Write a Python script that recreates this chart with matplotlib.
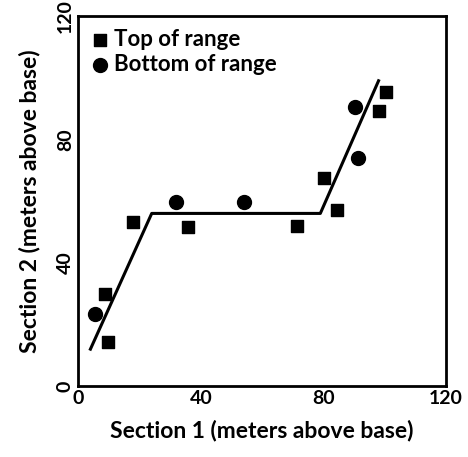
import matplotlib.pyplot as plt

plt.rcParams['font.family'] = ['Lato', 'DejaVu Sans']
plt.rcParams['font.weight'] = 'bold'

# Top of range (squares)
top_x = [8.8, 9.8, 17.9, 35.8, 71.4, 80.3, 84.3, 100.4, 98.2]
top_y = [29.8, 14.2, 53.3, 51.6, 52.0, 67.5, 57.2, 95.4, 89.3]
# Bottom of range (circles)
bot_x = [5.5, 31.8, 54.1, 90.4, 91.2]
bot_y = [23.4, 59.6, 59.6, 90.5, 73.9]
# fitted line
line_x = [4, 24, 79, 98]
line_y = [12, 56, 56, 99]
ticks = [0, 40, 80, 120]
tick_labels = ['0', '40', '80', '120']

fig = plt.figure(figsize=(4.68, 4.57), dpi=100)
ax = fig.add_axes([0.167, 0.155, 0.786, 0.81])

ax.plot(line_x, line_y, color='black', lw=2.2)
ax.scatter(top_x, top_y, marker='s', s=85, color='black', label='Top of range', zorder=3)
ax.scatter(bot_x, bot_y, marker='o', s=100, color='black', label='Bottom of range', zorder=3)

ax.set_xlim(0, 120)
ax.set_ylim(0, 120)
ax.set_xticks(ticks, tick_labels, fontweight='bold', fontsize=14)
ax.set_yticks(ticks, tick_labels, fontweight='bold', fontsize=14, rotation=90, va='center')
ax.tick_params(length=0, pad=3)
for sp in ax.spines.values():
    sp.set_linewidth(2)

ax.set_xlabel('Section 1 (meters above base)', fontsize=16.5, fontweight='bold', labelpad=9)
ax.set_ylabel('Section 2 (meters above base)', fontsize=16.5, fontweight='bold', labelpad=12)

leg = ax.legend(loc='upper left', frameon=False, fontsize=16, handletextpad=0.2,
                borderaxespad=0.2, borderpad=0.4, labelspacing=0.15, handlelength=0.8,
                scatterpoints=1)
for t in leg.get_texts():
    t.set_fontweight('bold')

fig.savefig('out.png', dpi=100)
